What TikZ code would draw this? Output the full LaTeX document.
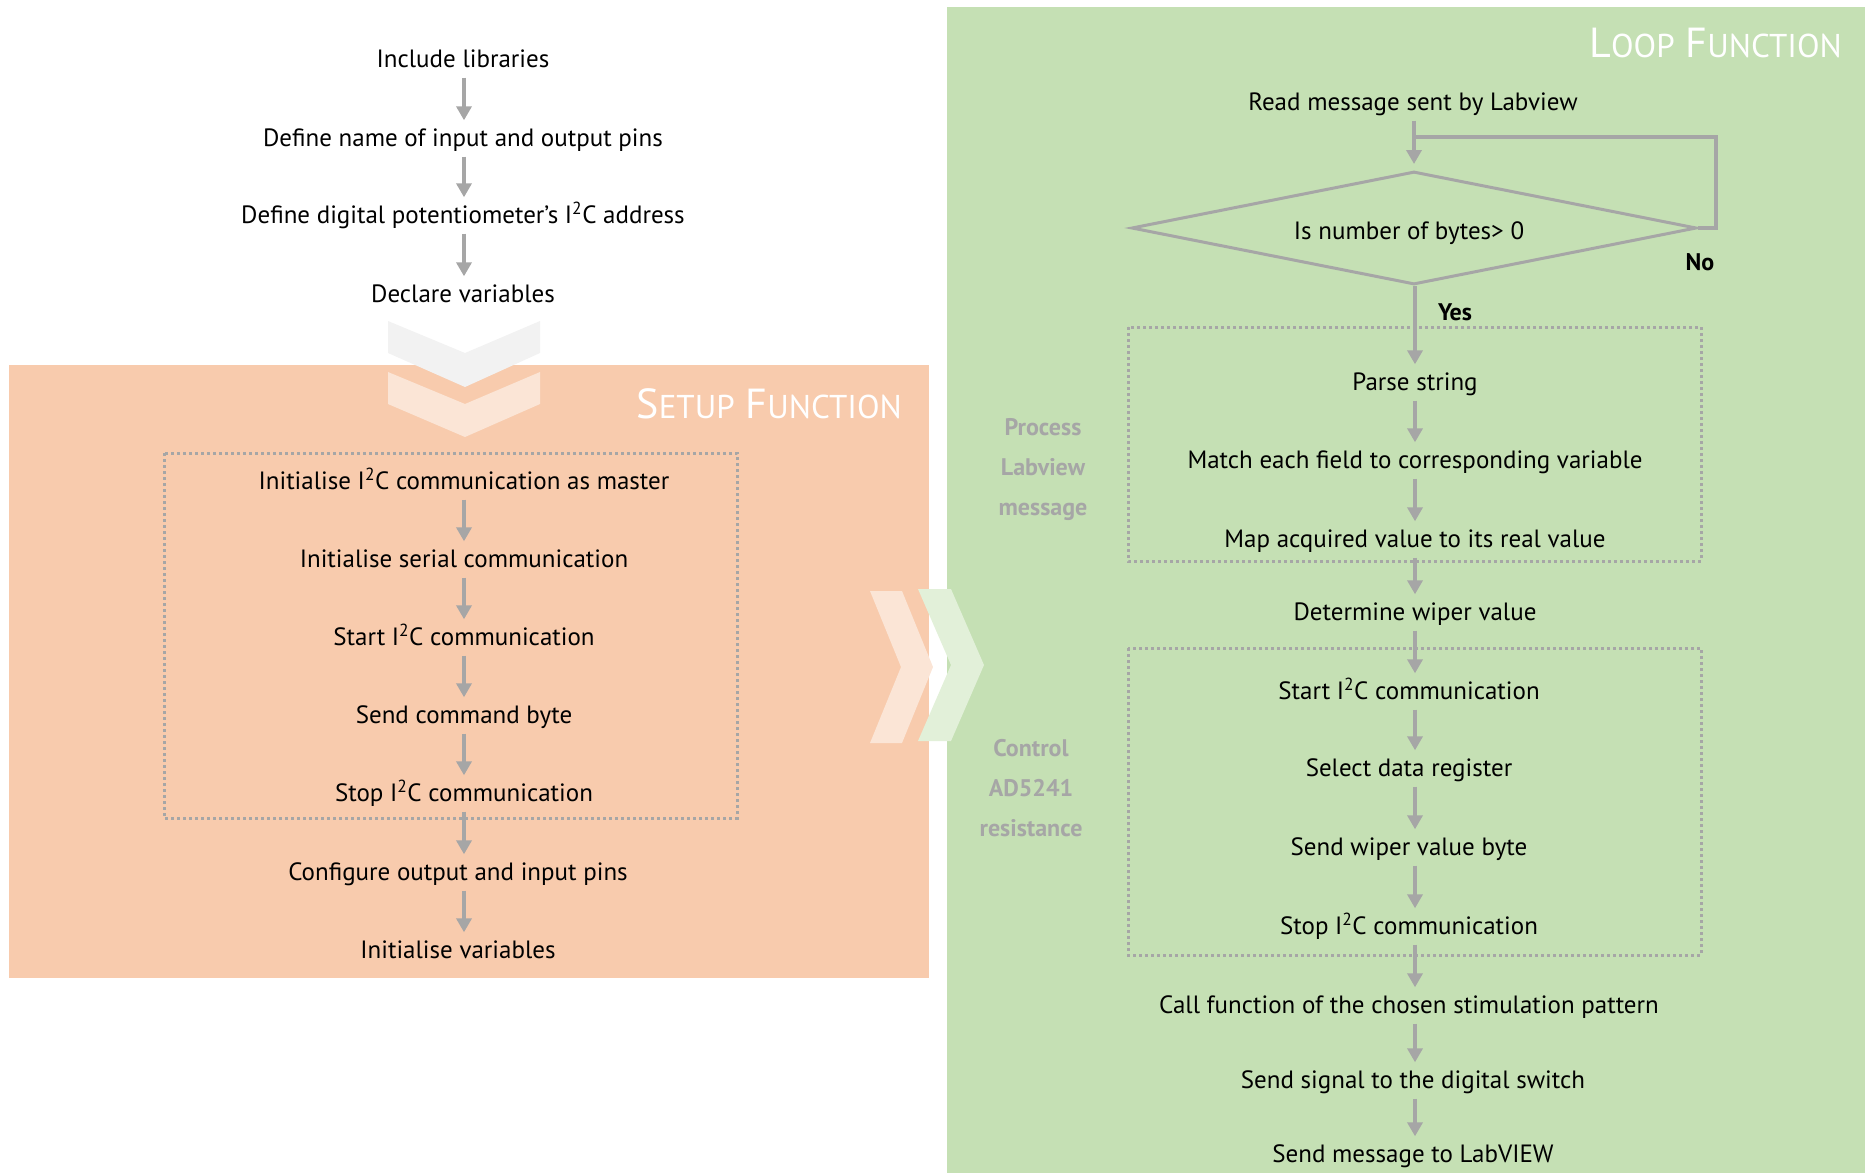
\documentclass[tikz,border=0pt]{standalone}
\usepackage{fontspec}
\setmainfont{PT Sans}
\usetikzlibrary{shapes.geometric,arrows.meta}
\definecolor{setupbg}{HTML}{F8CBAD}
\definecolor{loopbg}{HTML}{C5E0B4}
\definecolor{setupchev}{HTML}{FBE5D6}
\definecolor{loopchev}{HTML}{E2F0D9}
\definecolor{topchev}{HTML}{F2F2F2}
\definecolor{flowgray}{HTML}{A6A6A6}

\tikzset{
  stepnode/.style={font=\fontsize{25}{29}\selectfont, text height=22pt, text depth=6pt,
    inner xsep=2pt, inner ysep=4pt, yshift=-1.5pt},
  flowarrow/.style={draw=flowgray, line width=4pt,
    -{Triangle[width=15pt,length=14pt]}},
  flowline/.style={draw=flowgray, line width=4pt},
  groupbox/.style={draw=flowgray, line width=3pt, dash pattern=on 3pt off 3pt},
  sidenote/.style={font=\fontsize{24}{40}\selectfont\bfseries, text=flowgray, align=center},
  answer/.style={font=\fontsize{24}{28}\selectfont\bfseries},
  heading/.style={text=white, inner sep=0pt},
}
\newcommand{\bigC}[1]{{\fontsize{42}{42}\selectfont #1}}
\newcommand{\smallC}[1]{{\fontsize{33}{33}\selectfont #1}}

\begin{document}
\begin{tikzpicture}[x=1pt,y=-1pt]
\useasboundingbox (0,0) rectangle (1865,1173);

% panels
\fill[setupbg] (9,365) rectangle (929,978);
\fill[loopbg] (947,7) rectangle (1865,1173);

% chevrons between the stages
\fill[topchev] (388,321) -- (465,353) -- (540,321) -- (540,353) -- (465,387) -- (388,353) -- cycle;
\fill[setupchev] (388,372) -- (465,404) -- (540,372) -- (540,404) -- (465,437) -- (388,404) -- cycle;
\fill[setupchev] (870,591) -- (902,591) -- (933,667) -- (902,743) -- (870,743) -- (901,667) -- cycle;
\fill[loopchev] (918,589) -- (951,589) -- (984,665) -- (951,741) -- (918,741) -- (951,665) -- cycle;

% headings
\node[heading, anchor=base east] (setuphead) at (902,418)
  {\bigC{S}\smallC{ETUP}\hspace{11pt}\bigC{F}\smallC{UNCTION}};
\node[heading, anchor=base east] (loophead) at (1842,57)
  {\bigC{L}\smallC{OOP}\hspace{11pt}\bigC{F}\smallC{UNCTION}};

% group frames
\draw[groupbox] (164,453) rectangle (737,818);
\draw[groupbox] (1128,327) rectangle (1701,561);
\draw[groupbox] (1128,648) rectangle (1701,955);

% side notes
\node[sidenote] (procnote) at (1043,470) {Process\\Labview\\message};
\node[sidenote] (ctrlnote) at (1031,788) {Control\\AD5241\\resistance};

% preamble steps
\node[stepnode] (inc) at (463,58) {Include libraries};
\node[stepnode] (defpins) at (463,137) {Define name of input and output pins};
\node[stepnode] (defaddr) at (463,214) {Define digital potentiometer’s I\textsuperscript{2}C address};
\node[stepnode] (declare) at (463,293) {Declare variables};

% setup steps
\node[stepnode] (initi2c) at (464,480) {Initialise I\textsuperscript{2}C communication as master};
\node[stepnode] (initser) at (464,558) {Initialise serial communication};
\node[stepnode] (starti2c) at (464,636) {Start I\textsuperscript{2}C communication};
\node[stepnode] (sendcmd) at (464,714) {Send command byte};
\node[stepnode] (stopi2c) at (464,792) {Stop I\textsuperscript{2}C communication};
\node[stepnode] (config) at (458,871) {Configure output and input pins};
\node[stepnode] (initvar) at (458,949) {Initialise variables};

\coordinate (lspine) at (464,0);
\foreach \a/\b in {inc/defpins, defpins/defaddr, defaddr/declare,
                   initi2c/initser, initser/starti2c, starti2c/sendcmd,
                   sendcmd/stopi2c, stopi2c/config, config/initvar}
  \draw[flowarrow] (\a.south -| lspine) -- (\b.north -| lspine);

% loop steps
\node[stepnode] (read) at (1413,101) {Read message sent by Labview};
\node[draw=flowgray, line width=3pt, diamond, aspect=5, inner sep=0pt,
      minimum width=565pt, minimum height=113pt] (bytes) at (1414,228) {};
\node[stepnode] (bytestext) at (1409,230) {Is number of bytes> 0};
\node[stepnode] (parse) at (1415,381) {Parse string};
\node[stepnode] (match) at (1415,459) {Match each field to corresponding variable};
\node[stepnode] (map) at (1415,538) {Map acquired value to its real value};
\node[stepnode] (wiper) at (1415,611) {Determine wiper value};
\node[stepnode] (rstart) at (1409,690) {Start I\textsuperscript{2}C communication};
\node[stepnode] (select) at (1409,767) {Select data register};
\node[stepnode] (sendwiper) at (1409,846) {Send wiper value byte};
\node[stepnode] (rstop) at (1409,925) {Stop I\textsuperscript{2}C communication};
\node[stepnode] (callfn) at (1409,1004) {Call function of the chosen stimulation pattern};
\node[stepnode] (signal) at (1413,1079) {Send signal to the digital switch};
\node[stepnode] (sendmsg) at (1413,1153) {Send message to LabVIEW};

\node[answer] (no) at (1700,262) {No};
\node[answer] (yes) at (1455,312) {Yes};

% decision and its return path
\coordinate (rspine) at (1415,0);
\coordinate (junction) at (1414,137);
\coordinate (loopcorner) at (1716,137);
\draw[flowarrow, shorten >=6pt] (read.south -| bytes.north) -- (bytes.north);
\draw[flowline] (bytes.east) -- (bytes.east -| loopcorner) -- (loopcorner) -- (junction);
\draw[flowarrow] (bytes.south -| rspine) -- (parse.north -| rspine);

\foreach \a/\b in {parse/match, match/map, map/wiper, wiper/rstart,
                   rstart/select, select/sendwiper, sendwiper/rstop,
                   rstop/callfn, callfn/signal, signal/sendmsg}
  \draw[flowarrow] (\a.south -| rspine) -- (\b.north -| rspine);
\end{tikzpicture}
\end{document}
